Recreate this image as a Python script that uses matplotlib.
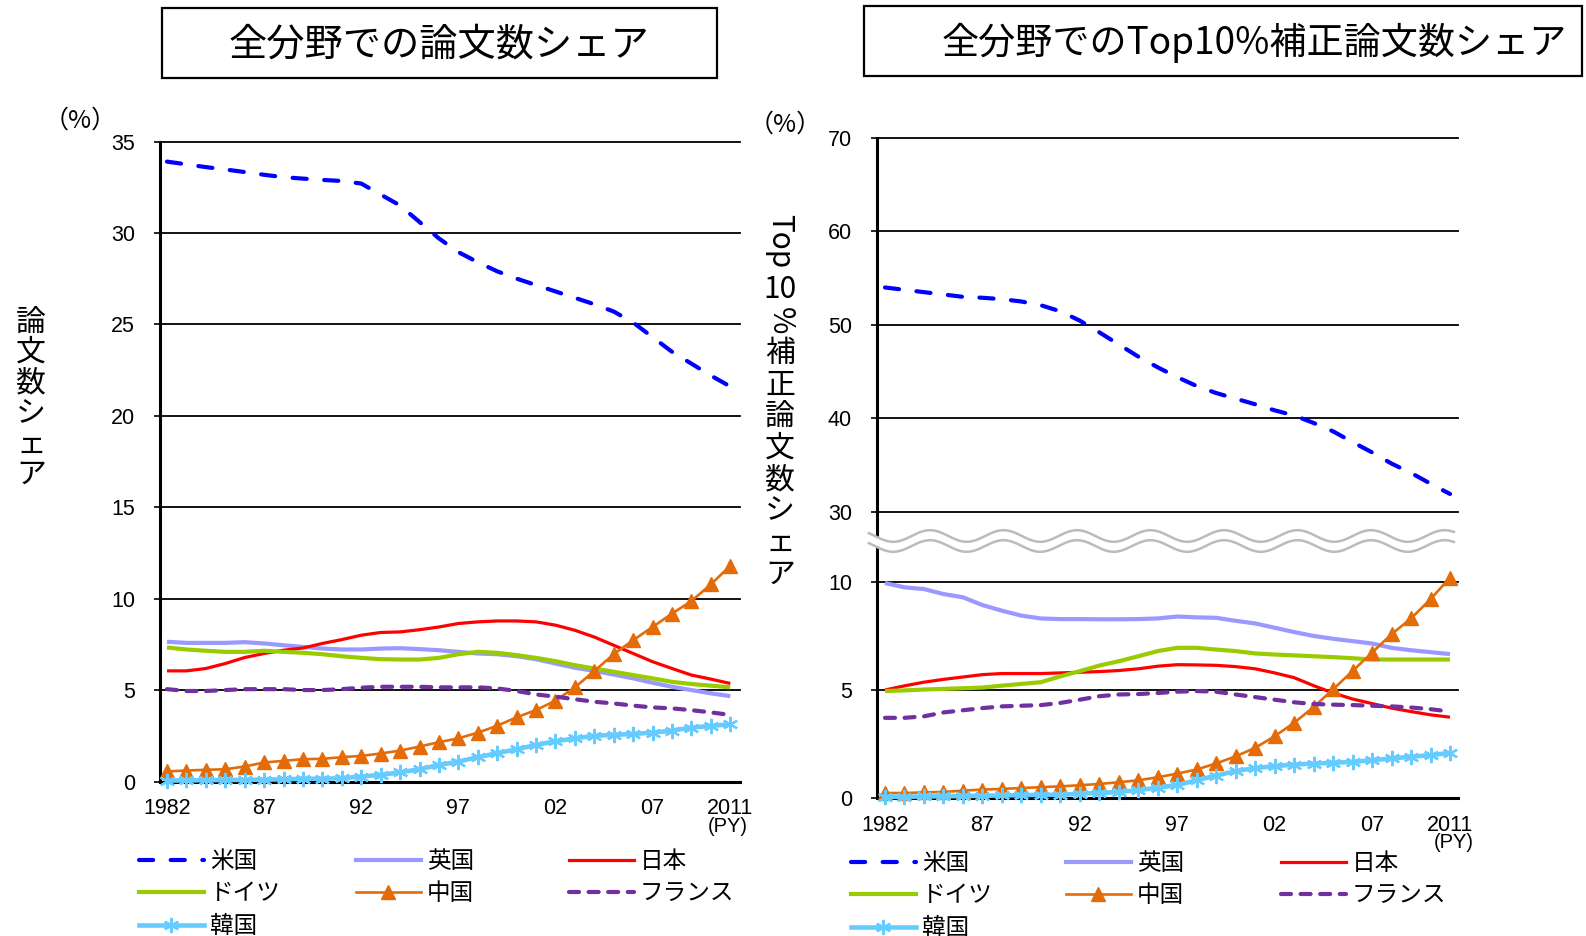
import numpy as np
import matplotlib
matplotlib.use("Agg")
import matplotlib.pyplot as plt
from matplotlib.lines import Line2D
from matplotlib.patches import Rectangle

# ---------------- data ----------------
years = list(range(1982, 2012))
countries = ["米国", "英国", "日本", "ドイツ", "中国", "フランス", "韓国"]

# 全分野での論文数シェア (%)
all_us = [33.9, 33.75, 33.6, 33.47, 33.33, 33.18, 33.05, 32.97, 32.9, 32.84,
          32.7, 32.1, 31.5, 30.6, 29.7, 28.95, 28.4, 27.9, 27.5, 27.15,
          26.8, 26.45, 26.1, 25.7, 25.1, 24.3, 23.5, 22.85, 22.2, 21.6]
all_uk = [7.64, 7.58, 7.58, 7.58, 7.62, 7.55, 7.45, 7.36, 7.27, 7.22,
          7.22, 7.27, 7.29, 7.24, 7.18, 7.09, 7.0, 6.96, 6.85, 6.69,
          6.45, 6.22, 6.05, 5.85, 5.64, 5.4, 5.18, 5.0, 4.82, 4.67]
all_jp = [6.05, 6.05, 6.18, 6.45, 6.78, 7.0, 7.18, 7.3, 7.55, 7.76,
          8.0, 8.15, 8.18, 8.3, 8.45, 8.64, 8.73, 8.78, 8.78, 8.73,
          8.55, 8.27, 7.9, 7.45, 7.0, 6.55, 6.18, 5.82, 5.6, 5.36]
all_de = [7.33, 7.22, 7.15, 7.09, 7.09, 7.15, 7.09, 7.04, 6.96, 6.85,
          6.76, 6.69, 6.67, 6.67, 6.76, 6.96, 7.09, 7.04, 6.91, 6.76,
          6.58, 6.36, 6.18, 6.0, 5.82, 5.64, 5.45, 5.33, 5.24, 5.15]
all_cn = [0.55, 0.6, 0.64, 0.67, 0.82, 1.04, 1.13, 1.22, 1.24, 1.33,
          1.4, 1.53, 1.69, 1.91, 2.15, 2.36, 2.67, 3.05, 3.51, 3.91,
          4.42, 5.15, 6.04, 6.96, 7.73, 8.45, 9.18, 9.87, 10.78, 11.8]
all_fr = [5.05, 4.95, 4.95, 5.0, 5.05, 5.05, 5.05, 5.0, 5.0, 5.05,
          5.13, 5.18, 5.18, 5.18, 5.15, 5.15, 5.15, 5.09, 4.95, 4.76,
          4.64, 4.5, 4.36, 4.27, 4.15, 4.05, 4.0, 3.9, 3.78, 3.64]
all_kr = [0.05, 0.06, 0.07, 0.08, 0.09, 0.1, 0.12, 0.15, 0.15, 0.18,
          0.27, 0.36, 0.5, 0.67, 0.9, 1.09, 1.33, 1.55, 1.76, 2.0,
          2.2, 2.36, 2.5, 2.55, 2.6, 2.67, 2.78, 2.95, 3.04, 3.13]

# 全分野でのTop10%補正論文数シェア (%)
top_us = [54.0, 53.75, 53.5, 53.25, 53.0, 52.9, 52.75, 52.5, 52.1, 51.45,
          50.45, 49.2, 47.9, 46.6, 45.45, 44.4, 43.45, 42.7, 42.1, 41.5,
          40.85, 40.3, 39.5, 38.6, 37.45, 36.35, 35.15, 34.15, 33.0, 31.9]
top_uk = [9.95, 9.75, 9.67, 9.44, 9.29, 8.93, 8.67, 8.44, 8.31, 8.28,
          8.28, 8.27, 8.27, 8.28, 8.31, 8.4, 8.36, 8.34, 8.2, 8.08,
          7.88, 7.68, 7.5, 7.37, 7.26, 7.15, 6.95, 6.84, 6.75, 6.66]
top_jp = [5.0, 5.19, 5.36, 5.49, 5.6, 5.71, 5.76, 5.76, 5.76, 5.79,
          5.82, 5.85, 5.9, 5.98, 6.1, 6.17, 6.16, 6.14, 6.08, 5.98,
          5.79, 5.57, 5.2, 4.86, 4.58, 4.37, 4.16, 4.0, 3.85, 3.74]
top_de = [4.95, 4.98, 5.02, 5.05, 5.08, 5.11, 5.2, 5.28, 5.36, 5.63,
          5.87, 6.13, 6.33, 6.56, 6.8, 6.95, 6.95, 6.87, 6.8, 6.69,
          6.64, 6.6, 6.56, 6.52, 6.47, 6.41, 6.41, 6.41, 6.41, 6.41]
top_cn = [0.23, 0.23, 0.26, 0.28, 0.34, 0.39, 0.42, 0.46, 0.5, 0.54,
          0.59, 0.65, 0.73, 0.82, 0.96, 1.13, 1.32, 1.6, 1.93, 2.32,
          2.86, 3.48, 4.21, 5.03, 5.88, 6.73, 7.58, 8.31, 9.2, 10.2]
top_fr = [3.71, 3.71, 3.78, 3.96, 4.06, 4.16, 4.24, 4.27, 4.3, 4.4,
          4.55, 4.71, 4.79, 4.81, 4.86, 4.92, 4.95, 4.92, 4.79, 4.67,
          4.55, 4.43, 4.35, 4.32, 4.3, 4.27, 4.24, 4.19, 4.11, 4.0]
top_kr = [0.05, 0.06, 0.07, 0.08, 0.09, 0.1, 0.12, 0.13, 0.15, 0.15,
          0.2, 0.23, 0.28, 0.36, 0.48, 0.6, 0.82, 1.04, 1.24, 1.39,
          1.47, 1.55, 1.59, 1.63, 1.67, 1.75, 1.83, 1.91, 1.98, 2.09]

xtick_pos = [1982, 1987, 1992, 1997, 2002, 2007, 2011]
xtick_lab = ["1982", "87", "92", "97", "02", "07", "2011"]
left_yticks = [0, 5, 10, 15, 20, 25, 30, 35]
right_yticks = [0, 5, 10, 30, 40, 50, 60, 70]

title_left = "全分野での論文数シェア"
title_right = "全分野でのTop10%補正論文数シェア"

# ---------------- styles ----------------
JP = ["Noto Sans CJK JP", "DejaVu Sans"]
NUM = ["Liberation Sans", "DejaVu Sans"]
styles = {
    "米国": dict(color="#0000FF", lw=3.0, dashes=(3.4, 4.2), dash_capstyle="round"),
    "英国": dict(color="#9999FF", lw=3.0),
    "日本": dict(color="#FF0000", lw=2.3),
    "ドイツ": dict(color="#99CC00", lw=3.0),
    "中国": dict(color="#E36C09", lw=1.9, marker="^", ms=9.5, mec="#E36C09", mfc="#E36C09"),
    "フランス": dict(color="#7030A0", lw=3.0, dashes=(2.4, 2.3), dash_capstyle="round"),
    "韓国": dict(color="#66CCFF", lw=3.3, marker=(6, 2, 0), ms=11, mew=1.6, mec="#66CCFF"),
}

W, H = 1586, 936
fig = plt.figure(figsize=(W / 100, H / 100), dpi=100)


def fx(x):
    return x / W


def fy(y):
    return 1 - y / H


def axes_px(l, t, r, b):
    return [fx(l), fy(b), (r - l) / W, (b - t) / H]


def style_axes(ax, yticks):
    ax.set_xticks(xtick_pos)
    ax.set_xticklabels(xtick_lab)
    ax.set_yticks(yticks)
    for lab in ax.get_xticklabels() + ax.get_yticklabels():
        lab.set_fontfamily(NUM)
        lab.set_fontsize(15.5)
    ax.tick_params(axis="x", length=0, pad=12)
    ax.tick_params(axis="y", length=4, width=1.2, direction="out", pad=14)
    for s in ["top", "right"]:
        ax.spines[s].set_visible(False)
    ax.spines["left"].set_linewidth(2.2)
    ax.spines["bottom"].set_linewidth(2.2)
    ax.yaxis.grid(True, color="black", lw=1.3)
    ax.set_axisbelow(True)
    for gl in ax.get_ygridlines():
        gl.set_clip_on(False)


def draw_series(ax, series):
    for name, vals in zip(countries, series):
        st = dict(styles[name])
        ax.plot(years, vals, zorder=3, solid_capstyle="butt", clip_on=False, **st)


# ---------------- left panel ----------------
axL = fig.add_axes(axes_px(160, 141.5, 740, 781.5))
draw_series(axL, [all_us, all_uk, all_jp, all_de, all_cn, all_fr, all_kr])
axL.set_xlim(1981.64, 2011.5)
axL.set_ylim(0, 35)
style_axes(axL, left_yticks)

# ---------------- right panel (broken axis) ----------------
gap_x = [-1000, 11, 30, 1000]
gap_y = [-1000, 11, 13.25, 13.25 + 970 * 0.4324]


def fwd(v):
    return np.interp(v, gap_x, gap_y)


def inv(v):
    return np.interp(v, gap_y, gap_x)


axR = fig.add_axes(axes_px(877, 138, 1458, 798))
axR.set_yscale("function", functions=(fwd, inv))
draw_series(axR, [top_us, top_uk, top_jp, top_de, top_cn, top_fr, top_kr])
axR.set_xlim(1981.59, 2011.41)
axR.set_ylim(0, 70)
style_axes(axR, right_yticks)

# wavy break marks
wx = np.linspace(-0.014, 0.993, 600)
pxs = 877 + wx * 581
pw = 73.5
y1 = np.array([(798 - (536 - 5.8 * np.cos(2 * np.pi * (p - 930) / pw))) / 660 for p in pxs])
y2 = np.array([(798 - (546 - 5.8 * np.cos(2 * np.pi * (p - 930) / pw))) / 660 for p in pxs])
axR.fill_between(wx, y2, y1, color="white", transform=axR.transAxes, zorder=5, clip_on=False, lw=0)
axR.plot(wx, y1, color="#BBBBBB", lw=1.8, transform=axR.transAxes, zorder=6, clip_on=False)
axR.plot(wx, y2, color="#BBBBBB", lw=1.8, transform=axR.transAxes, zorder=6, clip_on=False)

# ---------------- titles ----------------
for (l, t, r, b, cx, cy, fs, title) in [
        (162, 8, 717, 78, 439, 45, 27.5, title_left),
        (864, 6, 1582, 76, 1254, 43, 26.7, title_right)]:
    fig.patches.append(Rectangle((fx(l), fy(b)), (r - l) / W, (b - t) / H,
                                 transform=fig.transFigure, fill=True, facecolor="white",
                                 edgecolor="black", lw=1.6))
    fig.text(fx(cx), fy(cy), title, ha="center", va="center", fontsize=fs, family=JP)

# (%) labels
fig.text(fx(80), fy(121), "（%）", ha="center", va="center", fontsize=18, family=JP)
fig.text(fx(785), fy(125), "（%）", ha="center", va="center", fontsize=18, family=JP)

# (PY)
fig.text(fx(728), fy(826), "(PY)", ha="center", va="center", fontsize=14.5, family=NUM)
fig.text(fx(1454), fy(843), "(PY)", ha="center", va="center", fontsize=14.5, family=NUM)

# left y label (vertical writing)
left_chars = list("論文数シェア")
for i, ch in enumerate(left_chars):
    fig.text(fx(31), fy(322 + i * 30.5), ch, ha="center", va="center", fontsize=21.5, family=JP)

# right y label
fig.text(fx(780), fy(241), "Top", ha="center", va="center", fontsize=21.5, family=JP, rotation=-90)
fig.text(fx(780), fy(289), "10", ha="center", va="center", fontsize=21.5, family=JP)
fig.text(fx(780), fy(321), "%", ha="center", va="center", fontsize=21.5, family=JP, rotation=-90)
right_chars = list("補正論文数シェア")
for i, ch in enumerate(right_chars):
    fig.text(fx(780), fy(354 + i * 31.4), ch, ha="center", va="center", fontsize=21.5, family=JP)

# ---------------- legends ----------------
columns = [["米国", "ドイツ", "韓国"], ["英国", "中国"], ["日本", "フランス"]]


def handle(name):
    st = dict(styles[name])
    return Line2D([], [], **st)


def make_legends(col_x, row1_y):
    for names, x in zip(columns, col_x):
        fig.legend([handle(n) for n in names], names, loc="upper left",
                   bbox_to_anchor=(fx(x), fy(row1_y - 17)), frameon=False,
                   borderpad=0, borderaxespad=0, handlelength=2.75,
                   handletextpad=0.25, labelspacing=0.4, numpoints=1,
                   prop={"family": JP, "size": 17})


make_legends([139, 356, 569], 867)
make_legends([851, 1066, 1281], 869)

fig.savefig("out.png", dpi=100)
